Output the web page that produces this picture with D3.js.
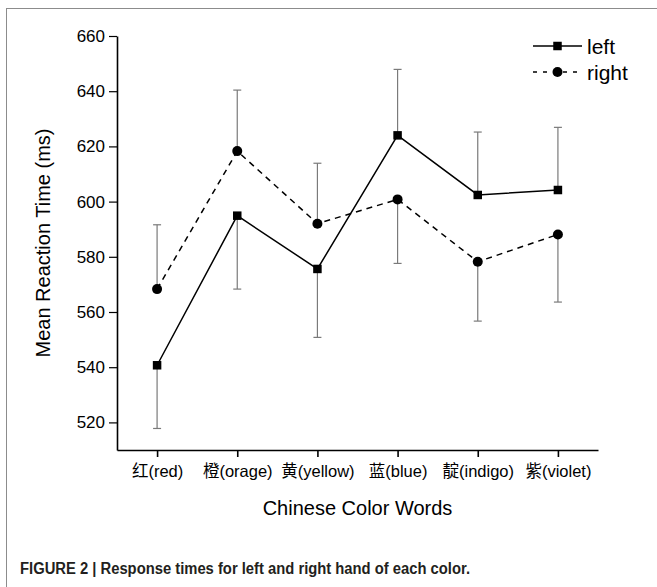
<!DOCTYPE html>
<html>
<head>
<meta charset="utf-8">
<script src="https://cdn.jsdelivr.net/npm/d3@7"></script>
<style>
  body { margin: 0; background: #fff; }
  svg text { font-family: "Liberation Sans", Arial, "Noto Sans CJK SC", sans-serif; }
</style>
</head>
<body>
<script>
// colour words on the x axis
var categories = ['红(red)', '橙(orage)', '黄(yellow)', '蓝(blue)', '靛(indigo)', '紫(violet)'];
// mean reaction times (ms)
var leftValues = [540.7, 594.9, 575.6, 624.0, 602.4, 604.2];
var rightValues = [568.3, 618.3, 592.0, 600.8, 578.2, 588.1];
// error bar ends (the upper series gets the bar upward, the lower one downward)
var leftErrEnd = [517.8, 568.3, 550.8, 647.9, 625.2, 626.9];
var rightErrEnd = [591.6, 640.4, 613.9, 577.6, 556.7, 563.6];
var yTicks = [520, 540, 560, 580, 600, 620, 640, 660];

var width = 657, height = 587;
var margin = { top: 36, right: 59, bottom: 137, left: 117 };

var svg = d3.select('body').append('svg')
    .attr('width', width)
    .attr('height', height);

// figure frame
svg.append('rect')
    .attr('x', 6.5).attr('y', 8.5)
    .attr('width', width).attr('height', height)
    .attr('fill', 'none')
    .attr('stroke', '#8c8c8c')
    .attr('stroke-width', 1);

var xScale = d3.scalePoint()
    .domain(categories)
    .range([margin.left, width - margin.right])
    .padding(0.5);

var yScale = d3.scaleLinear()
    .domain([510, 660])
    .range([height - margin.bottom, margin.top]);

// y axis
var yAxisG = svg.append('g')
    .attr('transform', 'translate(' + margin.left + ',0)')
    .call(d3.axisLeft(yScale).tickValues(yTicks).tickSize(8).tickPadding(4).tickSizeOuter(0))
yAxisG.select('.domain').attr('stroke-width', 1.6)
yAxisG.selectAll('.tick line').attr('stroke-width', 1.2)
yAxisG.selectAll('.tick text')
    .attr('font-size', 17)
    .attr('fill', '#000');

// x axis
var xAxisG = svg.append('g')
    .attr('transform', 'translate(0,' + (height - margin.bottom) + ')')
    .call(d3.axisBottom(xScale).tickSize(7).tickPadding(8).tickSizeOuter(0))
xAxisG.select('.domain').attr('stroke-width', 1.6)
xAxisG.selectAll('.tick line').attr('stroke-width', 1.6)
xAxisG.selectAll('.tick text')
    .attr('font-size', 16.5)
    .attr('fill', '#000');

// axis titles
svg.append('text')
    .attr('x', (margin.left + width - margin.right) / 2)
    .attr('y', 515)
    .attr('text-anchor', 'middle')
    .attr('font-size', 20)
    .text('Chinese Color Words');

svg.append('text')
    .attr('transform', 'translate(50,' + ((margin.top + height - margin.bottom) / 2) + ') rotate(-90)')
    .attr('text-anchor', 'middle')
    .attr('font-size', 20)
    .text('Mean Reaction Time (ms)');

// error bars
var errData = categories.map((c, i) => ({ c: c, a: leftValues[i], b: leftErrEnd[i] }))
    .concat(categories.map((c, i) => ({ c: c, a: rightValues[i], b: rightErrEnd[i] })));

var errG = svg.append('g').attr('stroke', '#7a7a7a').attr('stroke-width', 1.2);
errG.selectAll('.ebar').data(errData).enter().append('line')
    .attr('x1', d => xScale(d.c)).attr('x2', d => xScale(d.c))
    .attr('y1', d => yScale(d.a)).attr('y2', d => yScale(d.b));
errG.selectAll('.ecap').data(errData).enter().append('line')
    .attr('x1', d => xScale(d.c) - 4).attr('x2', d => xScale(d.c) + 4)
    .attr('y1', d => yScale(d.b)).attr('y2', d => yScale(d.b));

// lines
var line = d3.line()
    .x(d => xScale(d.c))
    .y(d => yScale(d.v));

var leftData = categories.map((c, i) => ({ c: c, v: leftValues[i] }));
var rightData = categories.map((c, i) => ({ c: c, v: rightValues[i] }));

svg.append('path').datum(leftData)
    .attr('d', line)
    .attr('fill', 'none')
    .attr('stroke', '#000')
    .attr('stroke-width', 1.5);

svg.append('path').datum(rightData)
    .attr('d', line)
    .attr('fill', 'none')
    .attr('stroke', '#000')
    .attr('stroke-width', 1.5)
    .attr('stroke-dasharray', '6,5');

// markers
var sq = 8.5;
svg.selectAll('.sq').data(leftData).enter().append('rect')
    .attr('x', d => xScale(d.c) - sq / 2)
    .attr('y', d => yScale(d.v) - sq / 2)
    .attr('width', sq).attr('height', sq)
    .attr('fill', '#000');

svg.selectAll('.ci').data(rightData).enter().append('circle')
    .attr('cx', d => xScale(d.c))
    .attr('cy', d => yScale(d.v))
    .attr('r', 5)
    .attr('fill', '#000');

// legend
var legend = svg.append('g').attr('transform', 'translate(533,46)');
legend.append('line')
    .attr('x1', 0).attr('x2', 49).attr('y1', 0).attr('y2', 0)
    .attr('stroke', '#000').attr('stroke-width', 1.5);
legend.append('rect')
    .attr('x', 24.5 - sq / 2).attr('y', -sq / 2)
    .attr('width', sq).attr('height', sq).attr('fill', '#000');
legend.append('text')
    .attr('x', 54).attr('y', 7.5)
    .attr('font-size', 21)
    .text('left');

legend.append('line')
    .attr('x1', 0).attr('x2', 49).attr('y1', 26).attr('y2', 26)
    .attr('stroke', '#000').attr('stroke-width', 1.5)
    .attr('stroke-dasharray', '4,6');
legend.append('circle')
    .attr('cx', 24.5).attr('cy', 26).attr('r', 5).attr('fill', '#000');
legend.append('text')
    .attr('x', 54).attr('y', 33.5)
    .attr('font-size', 21)
    .text('right');

// caption
svg.append('text')
    .attr('x', 20)
    .attr('y', 574)
    .attr('font-size', 16)
    .attr('font-weight', 'bold')
    .attr('fill', '#231f20')
    .attr('textLength', 450)
    .attr('lengthAdjust', 'spacingAndGlyphs')
    .text('FIGURE 2 | Response times for left and right hand of each color.');
</script>
</body>
</html>
